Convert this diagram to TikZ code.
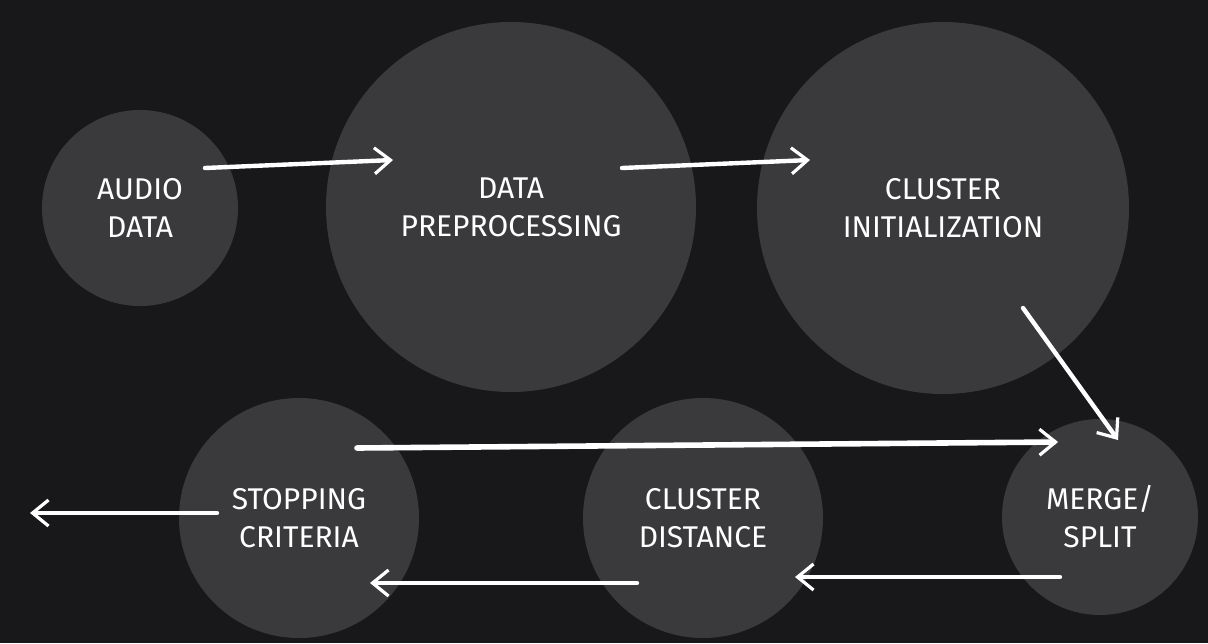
\documentclass[tikz,border=0pt]{standalone}
\usepackage{fontspec}
\setmainfont{Fira Sans}
\usetikzlibrary{arrows.meta}
\definecolor{board}{RGB}{24,24,26}
\definecolor{disc}{RGB}{58,58,60}

\begin{document}
\begin{tikzpicture}[x=0.5pt,y=-0.5pt,
                    chalk/.style={draw=white,line width=2.2pt,line cap=round,
                      -{Straight Barb[length=8pt,width=13pt,line width=1.6pt]}}]
  \tikzstyle{bubble}=[circle,fill=disc,draw=none,text=white,align=center,
                      inner sep=0pt,font=\fontsize{15}{19}\selectfont]

  \fill[board] (0,0) rectangle (1208,643);
  \useasboundingbox (0,0) rectangle (1208,643);

  \node[bubble,minimum size=98pt]  (audio) at (140,208) {AUDIO\\DATA};
  \node[bubble,minimum size=185pt] (prep)  at (511,207) {DATA\\PREPROCESSING};
  \node[bubble,minimum size=186pt] (init)  at (943,208) {CLUSTER\\INITIALIZATION};
  \node[bubble,minimum size=120pt] (stop)  at (299,518) {STOPPING\\CRITERIA};
  \node[bubble,minimum size=120pt] (dist)  at (703,518) {CLUSTER\\DISTANCE};
  \node[bubble,minimum size=98pt]  (merge) at (1100,517) {MERGE/\\SPLIT};

  % chalk arrow ends
  \coordinate (audio-out) at (205,168);
  \coordinate (prep-in)   at (393,160);
  \coordinate (prep-out)  at (622,168);
  \coordinate (init-in)   at (810,160);
  \coordinate (init-out)  at (1023,308);
  \coordinate (merge-in)  at (1118,440);
  \coordinate (stop-out)  at (357,448);
  \coordinate (merge-in2) at (1058,442);
  \coordinate (merge-out) at (1060,577);
  \coordinate (dist-in)   at (795,577);
  \coordinate (dist-out)  at (637,583);
  \coordinate (stop-in)   at (370,583);
  \coordinate (stop-end)  at (217,513);
  \coordinate (exit)      at (30,513);

  \path (audio-out) edge [chalk] (prep-in)
        (prep-out)  edge [chalk] (init-in)
        (init-out)  edge [chalk] (merge-in)
        (stop-out)  edge [chalk,line width=2.8pt] (merge-in2)
        (merge-out) edge [chalk] (dist-in)
        (dist-out)  edge [chalk] (stop-in)
        (stop-end)  edge [chalk] (exit);

\end{tikzpicture}
\end{document}
